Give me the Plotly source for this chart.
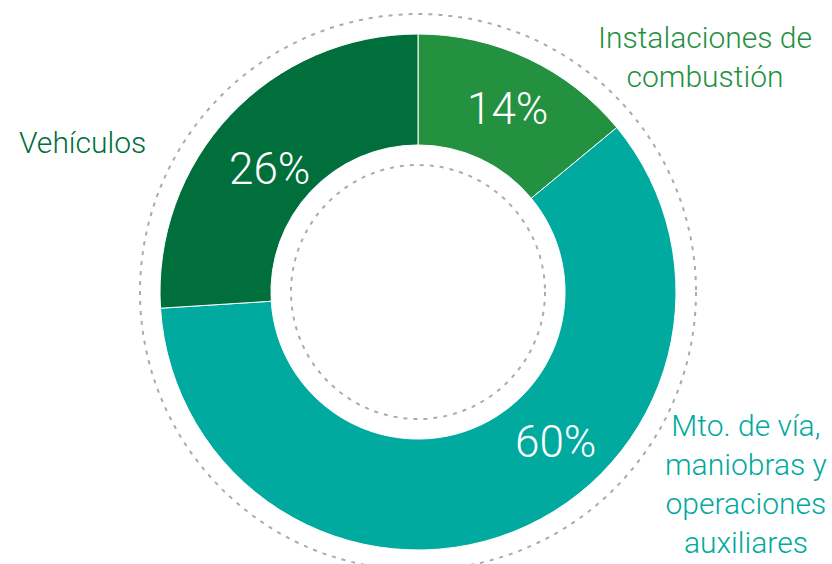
import plotly.graph_objects as go

categories = ["Instalaciones de<br>combustión", "Mto. de vía,<br>maniobras y<br>operaciones<br>auxiliares", "Vehículos"]
values = [14, 60, 26]
colors = ["#23913F", "#00AA9E", "#006F3C"]

W, H = 832, 564
cx, cy, R = 418, 292, 258

def px(x):
    return x / W

def py(y):
    return 1 - y / H

fig = go.Figure()
fig.add_trace(go.Pie(
    values=values,
    labels=categories,
    sort=False,
    direction="clockwise",
    rotation=0,
    hole=0.57,
    marker=dict(colors=colors, line=dict(color="white", width=1)),
    textinfo="none",
    hoverinfo="label+percent",
    showlegend=False,
    domain=dict(x=[px(cx - R), px(cx + R)], y=[py(cy + R), py(cy - R)]),
))

# dashed rings
for r in (278, 127):
    fig.add_shape(type="circle", xref="paper", yref="paper",
                  x0=px(cx - r), x1=px(cx + r), y0=py(cy + r), y1=py(cy - r),
                  line=dict(color="#A7ADAD", width=2, dash="4px,6px"))

# percentage labels (same order as values)
pct_pos = [(507, 109), (555, 442), (269, 169)]
for v, (x, y) in zip(values, pct_pos):
    fig.add_annotation(x=px(x), y=py(y), xref="paper", yref="paper",
                       text=f"{v}%", showarrow=False,
                       font=dict(family="Roboto", size=44, color="white", weight=300),
                       xanchor="center", yanchor="middle")

# category labels
cat_pos = [(705, 57, "center"), (746, 484, "center"), (17, 142, "left")]
for c, col, (x, y, anc) in zip(categories, colors, cat_pos):
    fig.add_annotation(x=px(x), y=py(y), xref="paper", yref="paper",
                       text=c, showarrow=False, align="center",
                       font=dict(family="Roboto", size=30, color=col, weight=300),
                       xanchor=anc, yanchor="middle")

fig.update_layout(width=W, height=H, margin=dict(l=0, r=0, t=0, b=0),
                  paper_bgcolor="white", plot_bgcolor="white")

fig.write_html("out.html", config={"displayModeBar": False},
               post_script="document.body.style.margin='0';document.body.style.overflow='hidden';")
